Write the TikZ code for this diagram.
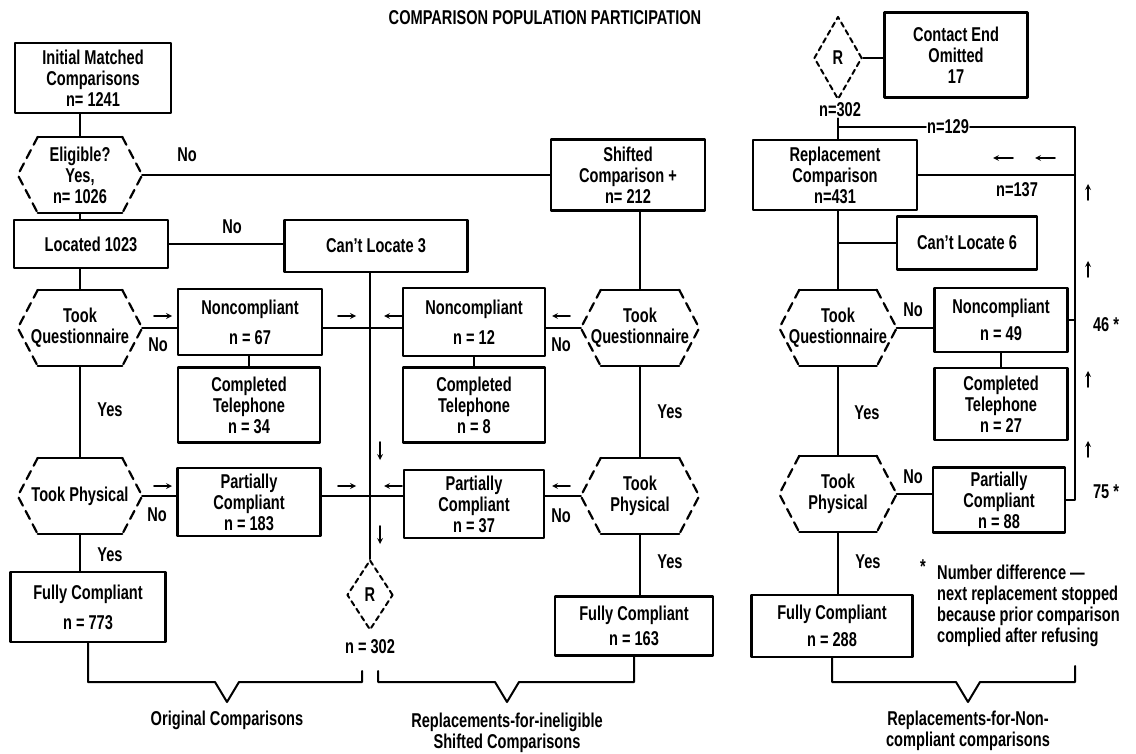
\documentclass[tikz,border=0pt]{standalone}
\usepackage{fontspec}
\setmainfont{Liberation Sans}[FakeStretch=0.73]
\usetikzlibrary{shapes.geometric}
\begin{document}
\begin{tikzpicture}[>=stealth, x=1pt, y=-1pt, line join=round, line cap=round,
    font=\fontsize{20}{21}\selectfont\bfseries,
    box/.style={draw, line width=2.4pt, align=center, inner sep=1pt},
    hexa/.style={minimum width=124pt, minimum height=76pt, align=center, inner sep=0pt},
    rnode/.style={diamond, draw, line width=2pt, dash pattern=on 5pt off 4pt, minimum width=46pt, minimum height=70pt, inner sep=0pt},
    link/.style={line width=2pt},
    flow/.style={->, line width=1.6pt},
    lbl/.style={inner sep=1pt}]
    \useasboundingbox (0,0) rectangle (1136,754);
    \node[lbl] (title) at (545,18) {\fontsize{20}{22}\selectfont COMPARISON POPULATION PARTICIPATION};
    % original comparisons
    \node[box, minimum width=156pt, minimum height=70pt] (init) at (93,78) {Initial Matched\\Comparisons\\n= 1241};
    \node[hexa] (elig) at (80,175) {Eligible?\\Yes,\\n= 1026};
    \node[box, minimum width=154pt, minimum height=48pt] (loc) at (91,244) {Located 1023};
    \node[box, minimum width=183pt, minimum height=52pt] (cl3) at (376,246) {Can't Locate 3};
    \node[hexa] (tq1) at (80,328) {Took\\Questionnaire};
    \node[box, minimum width=144pt, minimum height=66pt] (nc1) at (250,322) {Noncompliant\\[9pt]n = 67};
    \node[box, minimum width=142pt, minimum height=75pt] (ct1) at (249,405) {Completed\\Telephone\\n = 34};
    \node[hexa] (tp1) at (80,496) {Took Physical};
    \node[box, minimum width=143pt, minimum height=68pt] (pc1) at (249,502) {Partially\\Compliant\\n = 183};
    \node[box, minimum width=155pt, minimum height=70pt] (fc1) at (88,607) {Fully Compliant\\[9pt]n = 773};
    \node[rnode] (rmid) at (370,595) {R};
    \node[lbl] (n302a) at (370,647) {n = 302};
    % shifted comparisons
    \node[box, minimum width=154pt, minimum height=71pt] (shift) at (628,175) {Shifted\\Comparison +\\n= 212};
    \node[box, minimum width=142pt, minimum height=68pt] (nc2) at (474,322) {Noncompliant\\[9pt]n = 12};
    \node[box, minimum width=142pt, minimum height=75pt] (ct2) at (474,405) {Completed\\Telephone\\n = 8};
    \node[hexa, minimum width=118pt] (tq2) at (640,328) {Took\\Questionnaire};
    \node[box, minimum width=140pt, minimum height=68pt] (pc2) at (474,504) {Partially\\Compliant\\n = 37};
    \node[hexa, minimum width=118pt] (tp2) at (640,496) {Took\\Physical};
    \node[box, minimum width=158pt, minimum height=59pt] (fc2) at (634,626) {Fully Compliant\\[4pt]n = 163};
    % replacements for noncompliant
    \node[rnode, minimum width=48pt, minimum height=83pt] (rtop) at (838,58) {R};
    \node[lbl] (n302b) at (840,110) {n=302};
    \node[box, minimum width=143pt, minimum height=85pt] (ceo) at (956,55) {Contact End\\Omitted\\17};
    \node[box, minimum width=164pt, minimum height=70pt] (repl) at (835,175) {Replacement\\Comparison\\n=431};
    \node[box, minimum width=140pt, minimum height=53pt] (cl6) at (967,243) {Can't Locate 6};
    \node[hexa, minimum width=117pt] (tq3) at (838,328) {Took\\Questionnaire};
    \node[box, minimum width=133pt, minimum height=64pt] (nc3) at (1001,320) {Noncompliant\\[6pt]n = 49};
    \node[box, minimum width=133pt, minimum height=72pt] (ct3) at (1001,404) {Completed\\Telephone\\n = 27};
    \node[hexa, minimum width=117pt] (tp3) at (838,494) {Took\\Physical};
    \node[box, minimum width=132pt, minimum height=65pt] (pc3) at (999,500) {Partially\\Compliant\\n = 88};
    \node[box, minimum width=161pt, minimum height=62pt] (fc3) at (832,626) {Fully Compliant\\[6pt]n = 288};
    % hexagons: solid top and bottom, dashed sides
    \foreach \h in {elig,tq1,tp1,tq2,tp2,tq3,tp3}{
        \draw[line width=2.4pt] ([xshift=20pt]\h.north west) -- ([xshift=-20pt]\h.north east)
            ([xshift=20pt]\h.south west) -- ([xshift=-20pt]\h.south east);
        \draw[line width=2.2pt, dash pattern=on 9pt off 6pt]
            ([xshift=-20pt]\h.north east) -- (\h.east) -- ([xshift=-20pt]\h.south east)
            ([xshift=20pt]\h.north west) -- (\h.west) -- ([xshift=20pt]\h.south west);
    }
    % labels
    \node[lbl] (no1) at (187,155) {No};
    \node[lbl] (no2) at (232,227) {No};
    \node[lbl] (no3) at (158,345) {No};
    \node[lbl] (no4) at (157,515) {No};
    \node[lbl] (no5) at (561,345) {No};
    \node[lbl] (no6) at (561,516) {No};
    \node[lbl] (no7) at (913,310) {No};
    \node[lbl] (no8) at (913,477) {No};
    \node[lbl] (yes1) at (110,410) {Yes};
    \node[lbl] (yes2) at (110,555) {Yes};
    \node[lbl] (yes3) at (670,412) {Yes};
    \node[lbl] (yes4) at (670,562) {Yes};
    \node[lbl] (yes5) at (867,413) {Yes};
    \node[lbl] (yes6) at (868,562) {Yes};
    \node[lbl] (n129) at (948,127) {n=129};
    \node[lbl] (n137) at (1017,190) {n=137};
    \node[lbl] (s46) at (1106,325) {46 *};
    \node[lbl] (s75) at (1106,492) {75 *};
    % connectors
    \draw[link] (init.south -| elig.north) -- (elig.north);
    \draw[link] (elig.south) -- (elig.south |- loc.north);
    \draw[link] (elig.east) -- (elig.east -| shift.west);
    \draw[link] (loc.east) -- (loc.east -| cl3.west);
    \draw[link] (loc.south -| tq1) -- (tq1.north);
    \draw[link] (tq1.east) -- (tq1.east -| nc1.west);
    \draw[link] (nc1.east |- tq1.east) -- (nc2.west |- tq1.east);
    \draw[link] (nc1.south -| ct1) -- (ct1.north);
    \draw[link] (tq1.south) -- (tp1.north);
    \draw[link] (tp1.east) -- (tp1.east -| pc1.west);
    \draw[link] (pc1.east |- tp1.east) -- (pc2.west |- tp1.east);
    \draw[link] (tp1.south) -- (tp1.south |- fc1.north);
    \draw[link] (cl3.south -| rmid) -- (rmid.north);
    \draw[link] (shift.south -| tq2) -- (tq2.north);
    \draw[link] (tq2.west) -- (tq2.west -| nc2.east);
    \draw[link] (nc2.south -| ct2) -- (ct2.north);
    \draw[link] (tq2.south) -- (tp2.north);
    \draw[link] (tp2.west) -- (tp2.west -| pc2.east);
    \draw[link] (tp2.south) -- (tp2.south |- fc2.north);
    \draw[link] (rtop.east) -- (rtop.east -| ceo.west);
    \coordinate (lp) at (1075,127);
    \draw[link] (n302b.south -| tq3) -- (repl.north -| tq3);
    \draw[link] (lp -| tq3) -- (n129.west) (n129.east) -- (lp) -- (lp |- pc3.east) -- (pc3.east);
    \draw[link] (repl.east) -- (repl.east -| lp);
    \draw[link] (nc3.east) -- (nc3.east -| lp);
    \draw[link] (repl.south -| tq3) -- (tq3.north);
    \draw[link] (cl6.west -| tq3) -- (cl6.west);
    \draw[link] (tq3.east) -- (tq3.east -| nc3.west);
    \draw[link] (nc3.south -| ct3) -- (ct3.north);
    \draw[link] (tq3.south) -- (tp3.north);
    \draw[link] (tp3.east) -- (tp3.east -| pc3.west);
    \draw[link] (tp3.south) -- (tp3.south |- fc3.north);
    % small direction arrows
    \foreach \y in {316,486}{
        \draw[flow] (154,\y) -- (172,\y);
        \draw[flow] (338,\y) -- (356,\y);
        \draw[flow] (402,\y) -- (384,\y);
        \draw[flow] (570,\y) -- (552,\y);
    }
    \draw[flow] (380,442) -- (380,460);
    \draw[flow] (380,526) -- (380,544);
    \draw[flow] (1013,158) -- (993,158);
    \draw[flow] (1055,158) -- (1035,158);
    \foreach \y in {200,277,387,457} \draw[flow] (1088,\y) -- (1088,\y-16);
    % brackets
    \draw[link] (fc1.south) -- (fc1.south |- 0,682) -- (215,682) -- (227,702) -- (239,682) -- (362,682) -- (362,671);
    \draw[link] (378,671) -- (378,682) -- (495,682) -- (507,702) -- (519,682) -- (fc2.south |- 0,682) -- (fc2.south);
    \draw[link] (fc3.south) -- (fc3.south |- 0,682) -- (956,682) -- (968,702) -- (980,682) -- (1075,682) -- (1075,666);
    \node[lbl] (orig) at (227,720) {Original Comparisons};
    \node[lbl, align=center] (inel) at (507,733) {Replacements-for-ineligible\\Shifted Comparisons};
    \node[lbl, align=center] (noncomp) at (968,731) {Replacements-for-Non-\\compliant comparisons};
    \node[lbl] (star) at (923,567) {*};
    \node[lbl, anchor=north west, align=left] (note) at (936,564) {Number difference ---\\next replacement stopped\\because prior comparison\\complied after refusing};
\end{tikzpicture}
\end{document}
